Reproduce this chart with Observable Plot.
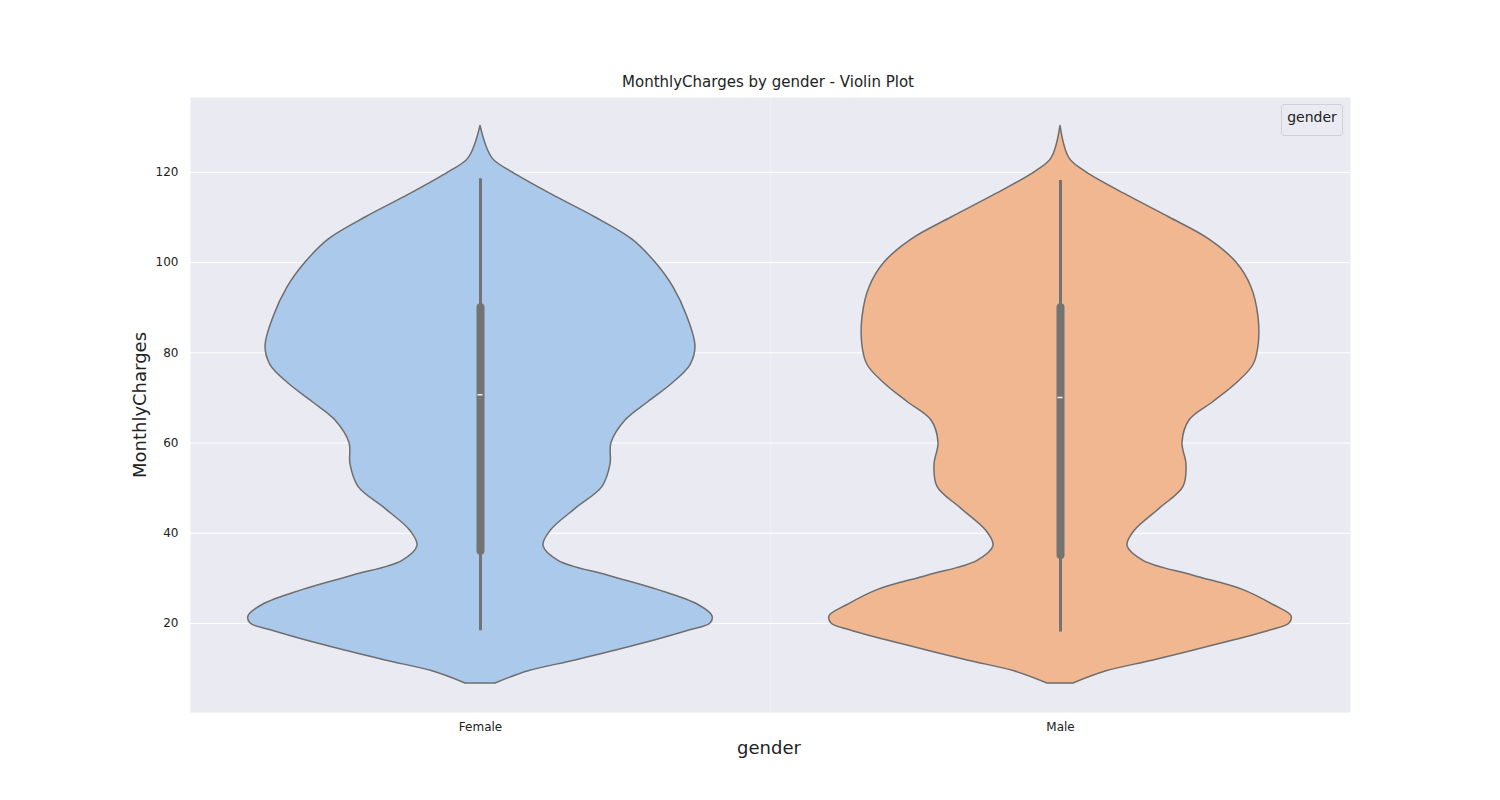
<!DOCTYPE html>
<html>
<head>
<meta charset="utf-8">
<script src="https://cdn.jsdelivr.net/npm/d3@7"></script>
<script src="https://cdn.jsdelivr.net/npm/@observablehq/plot@0.6"></script>
<style>
  body { margin: 0; background: white; font-family: "DejaVu Sans", sans-serif; }
  #wrap { position: relative; width: 1500px; height: 800px; }
  .lbl { position: absolute; color: #222; }
</style>
</head>
<body>
<div id="wrap">
  <div id="chart"></div>
  <div class="lbl" style="left:0;width:1536px;top:73px;text-align:center;font-size:15px;">MonthlyCharges by gender - Violin Plot</div>
  <div class="lbl" style="left:0;width:1538px;top:737px;text-align:center;font-size:18px;">gender</div>
  <div class="lbl" style="left:139px;top:405px;font-size:18px;transform:translate(-50%,-50%) rotate(-90deg);white-space:nowrap;">MonthlyCharges</div>
  <div class="lbl" style="left:1281px;top:104px;width:60px;height:30px;border:1px solid #d0d0d8;border-radius:3px;background:#eaeaf2;font-size:14px;text-align:center;line-height:24px;">gender</div>
</div>
<script>
const genders = ["Female", "Male"];
// MonthlyCharges levels at which the violin half-widths were read
const levels = [6.7, 9.4, 11.8, 15.1, 18.4, 20, 21.6, 24.1, 27.4, 30.6, 33.9, 37.2, 40.5, 45.4, 50.3, 55.2, 60, 65, 69.1, 73.2, 77.3, 81.4, 87.9, 94.5, 100, 105.1, 110, 115, 120, 123.1, 130.3];
const femaleWidth = [15, 48, 95, 155, 208, 230, 232, 218, 178, 128, 78, 63, 70, 95, 122, 130, 131, 145, 168, 192, 210, 215, 207, 193, 175, 152, 115, 72, 32, 12, 0];
const maleWidth = [13, 46, 93, 153, 209, 229, 231, 213, 183, 133, 83, 67, 74, 99, 123, 126, 122, 129, 153, 176, 193, 198, 198, 191, 176, 149, 109, 66, 26, 9, 0];
// box stats: whisker low, Q1, median, Q3, whisker high
const femaleBox = [18.4, 36, 70.7, 90, 118.6];
const maleBox = [18.1, 35.1, 70.1, 90, 118.2];

const rows = [];
levels.forEach((v, i) => {
  rows.push({gender: "Female", y: v, w: femaleWidth[i]});
  rows.push({gender: "Male", y: v, w: maleWidth[i]});
});
const boxes = [femaleBox, maleBox].map((b, i) => ({gender: genders[i], lo: b[0], q1: b[1], med: b[2], q3: b[3], hi: b[4]}));

const chart = Plot.plot({
  width: 1500,
  height: 800,
  marginLeft: 190,
  marginRight: 150,
  marginTop: 97,
  marginBottom: 88,
  style: {fontFamily: "DejaVu Sans, sans-serif", fontSize: "12px", color: "#222"},
  fx: {domain: genders, padding: 0, label: null, tickSize: 0, tickPadding: 10, axis: "bottom"},
  x: {domain: [-290, 290], axis: null},
  y: {domain: [0.27, 136.6], ticks: [20, 40, 60, 80, 100, 120], tickSize: 0, tickPadding: 12, label: null},
  color: {domain: genders, range: ["#abc9eb", "#f0b791"]},
  marks: [
    Plot.frame({fill: "#eaeaf2"}),
    Plot.gridY([20, 40, 60, 80, 100, 120], {stroke: "white", strokeOpacity: 1, strokeWidth: 1}),
    Plot.areaX(rows, {fx: "gender", y: "y", x1: d => -d.w, x2: "w", fill: "gender", stroke: "#6e6e6e", strokeWidth: 1.5, curve: "catmull-rom"}),
    Plot.ruleX(boxes, {fx: "gender", x: () => 0, y1: "lo", y2: "hi", stroke: "#737373", strokeWidth: 3}),
    Plot.ruleX(boxes, {fx: "gender", x: () => 0, y1: "q1", y2: "q3", stroke: "#737373", strokeWidth: 8, strokeLinecap: "round"}),
    Plot.ruleY(boxes, {fx: "gender", y: "med", x1: () => -2.5, x2: () => 2.5, stroke: "#f0f0f0", strokeWidth: 1.5})
  ]
});
document.getElementById("chart").append(chart);
</script>
</body>
</html>
